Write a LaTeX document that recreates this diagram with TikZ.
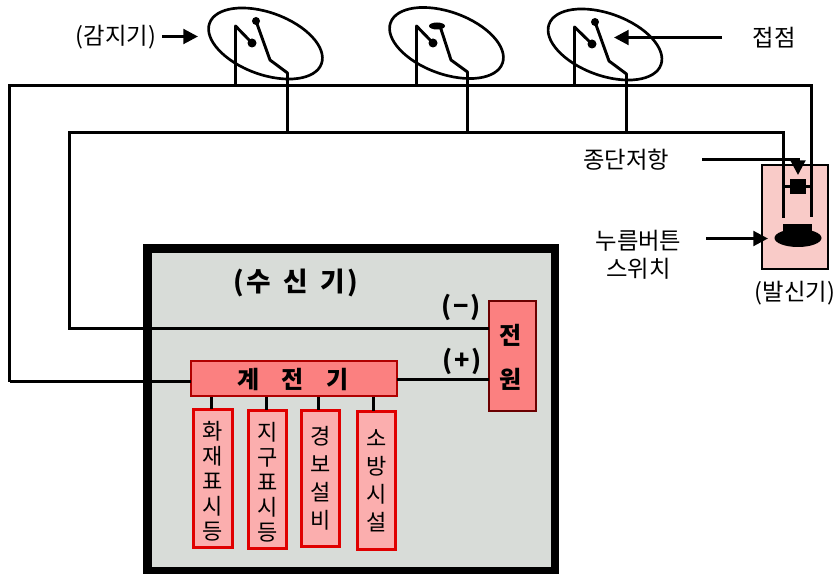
\documentclass[tikz,border=0pt]{standalone}
\usepackage{fontspec}
\setmainfont{Noto Sans CJK KR}
\usetikzlibrary{arrows.meta,shapes.geometric}
\definecolor{panel}{HTML}{D8DCD8}
\definecolor{relayfill}{HTML}{FB8080}
\definecolor{relayline}{HTML}{B00000}
\definecolor{powerline}{HTML}{6B0000}
\definecolor{outfill}{HTML}{FBAEAE}
\definecolor{outline}{HTML}{E00000}
\definecolor{sendfill}{HTML}{F9CBC8}
\tikzset{
  x=0.75pt,y=-0.75pt,
  wire/.style={draw=black,line width=2.25pt,line cap=butt,line join=miter},
  detector/.style={draw=black,line width=2.2pt,line join=round},
  ring/.style={draw=black,line width=2pt,ellipse,inner sep=0pt,outer sep=0pt,minimum width=119*0.75pt,minimum height=62*0.75pt,rotate=-20},
  dotnode/.style={circle,fill=black,inner sep=0pt,minimum size=#1*0.75pt},
  pointer/.style={draw=black,line width=2.25pt,-{Triangle[length=11pt,width=11pt]}},
  lbl/.style={inner sep=0pt,font=\fontsize{17.5pt}{21pt}\selectfont,align=center,text=black},
  blbl/.style={inner sep=0pt,font=\fontsize{18pt}{20pt}\selectfont\bfseries,align=center,text=black},
  signlbl/.style={inner sep=0pt,font=\fontsize{19pt}{22pt}\selectfont\bfseries,text=black},
  outbox/.style={draw=outline,fill=outfill,line width=2.2pt,inner sep=0pt,outer sep=0pt,align=center,anchor=north west},
  rowa/.style={outbox,font=\fontsize{16.5pt}{18.75pt}\selectfont},
  rowb/.style={outbox,font=\fontsize{16.5pt}{21pt}\selectfont},
  tap/.style={draw=black,line width=2.25pt},
  rect/.style={inner sep=0pt,outer sep=0pt,anchor=north west},
}
\begin{document}
\begin{tikzpicture}
\useasboundingbox (0,0) rectangle (836,574);

% receiver panel
\node[rect,draw=black,fill=panel,line width=6.4pt,minimum width=407.5*0.75pt,minimum height=323*0.75pt] (recv) at (147.5,248.5) {};
\node[signlbl,font=\fontsize{20pt}{24pt}\selectfont\bfseries] at (296,283) {(\hspace{1.5pt}수\hspace{9.5pt}신\hspace{9.5pt}기\hspace{1.5pt})};

% sender
\node[rect,draw=black,fill=sendfill,line width=2pt,minimum width=66*0.75pt,minimum height=104*0.75pt] (send) at (762,165) {};
\node[fill=black,inner sep=0pt,outer sep=0pt,minimum width=16*0.75pt,minimum height=15*0.75pt] (res) at (798,186.5) {};
\node[fill=black,ellipse,inner sep=0pt,outer sep=0pt,minimum width=47*0.75pt,minimum height=18*0.75pt] (btnbase) at (798,238) {};
\node[rect,fill=black,minimum width=29*0.75pt,minimum height=9*0.75pt] (btntop) at (783,224) {};

% detectors
\node[ring] (d1) at (265.5,43.5) {};
\node[ring] (d2) at (446.5,43) {};
\node[ring] (d3) at (605,44.5) {};

\node[dotnode=9] (a1) at (252,43) {};
\node[dotnode=8] (b1) at (256,21) {};
\node[dotnode=9] (a2) at (433,43) {};
\node[fill=black,ellipse,inner sep=0pt,minimum width=16*0.75pt,minimum height=7*0.75pt] (b2) at (437,26) {};
\node[dotnode=9] (a3) at (592,44) {};
\node[dotnode=8] (b3) at (595,22) {};

% bus junctions
\coordinate (busPa) at (9.5,85.5);
\coordinate (busPb) at (811.5,85.5);
\coordinate (busNa) at (69.5,132.5);
\coordinate (busNb) at (783.5,132.5);
\coordinate (tp1) at (235.5,85.5);
\coordinate (tp2) at (416.5,85.5);
\coordinate (tp3) at (574.5,85.5);
\coordinate (tn1) at (287.5,132.5);
\coordinate (tn2) at (467.5,132.5);
\coordinate (tn3) at (626.5,132.5);

% relay, power
\node[rect,draw=relayline,fill=relayfill,line width=2.2pt,minimum width=206*0.75pt,minimum height=35*0.75pt] (relay) at (191,361) {};
\node[blbl] at (293,379.5) {계\hspace{17pt}전\hspace{17pt}기};
\node[rect,draw=powerline,fill=relayfill,line width=2.2pt,minimum width=47*0.75pt,minimum height=110*0.75pt] (power) at (489,301) {};
\node[blbl] at (511,335) {전};
\node[blbl] at (511,379) {원};

% output boxes
\node[rowa,minimum width=39*0.75pt,minimum height=138*0.75pt] (o1) at (193.5,409.5) {\rule{0pt}{18pt}화\\재\\표\\시\\등};
\node[rowa,minimum width=38*0.75pt,minimum height=138*0.75pt] (o2) at (248.5,410.5) {\rule{0pt}{18pt}지\\구\\표\\시\\등};
\node[rowb,minimum width=38*0.75pt,minimum height=136*0.75pt] (o3) at (301.5,410.5) {경\\보\\설\\비};
\node[rowb,minimum width=38*0.75pt,minimum height=138*0.75pt] (o4) at (357.5,411.5) {소\\방\\시\\설};

% wires
\draw[wire] (busPa |- 0,381.5) -- (busPa) -- (busPb) -- (811.5,217);
\draw[wire] (busPa |- 0,381.5) -- (relay.west |- 0,381.5);
\draw[wire] (783.5,218) -- (busNb) -- (busNa) -- (69.5,328.5) -- (power.west |- 0,328.5);
\draw[wire] (relay.east |- 0,379.5) -- (power.west |- 0,379.5);
\draw[wire] (res.west) -- (783.5,186.5);
\draw[wire] (res.east) -- (811.5,186.5);

\draw[detector] (tp1) -- (235.5,26) -- (a1.center);
\draw[detector] (b1.center) -- (270,60) -- (287.5,73) -- (tn1);
\draw[detector] (tp2) -- (416.5,26) -- (a2.center);
\draw[detector] (440,26) -- (451,60) -- (467.5,72) -- (tn2);
\draw[detector] (tp3) -- (574.5,27) -- (a3.center);
\draw[detector] (b3.center) -- (609,61) -- (626.5,74) -- (tn3);

\draw[tap] (211.5,397) -- (211.5,409);
\draw[tap] (266.5,397) -- (266.5,410);
\draw[tap] (318.5,397) -- (318.5,410);
\draw[tap] (373.5,397) -- (373.5,411);

% labels and pointers
\node[lbl] (lsense) at (116,37) {(감지기)};
\node[lbl] (lcontact) at (774,38) {접점};
\node[lbl] (lterm) at (626,160) {종단저항};
\node[lbl] (lpush) at (638.5,255) {누름버튼\\스위치};
\node[lbl] (lsend) at (795,293) {(발신기)};
\node[signlbl] at (461,307) {(\hspace{1.5pt}−\hspace{1.5pt})};
\node[signlbl] at (462,361) {(\hspace{1.5pt}+\hspace{1.5pt})};

\coordinate (p1s) at (162,36.5);
\coordinate (p1e) at (198,36.5);
\coordinate (p2s) at (722,37.5);
\coordinate (p2e) at (614,37.5);
\coordinate (p3s) at (702,159.5);
\coordinate (p3k) at (798,159.5);
\coordinate (p3e) at (798,175);
\coordinate (p4s) at (706,238.5);
\coordinate (p4e) at (768,238.5);
\draw[pointer] (p1s) -- (p1e);
\draw[pointer] (p2s) -- (p2e);
\draw[pointer] (p3s) -- (p3k) -- (p3e);
\draw[pointer] (p4s) -- (p4e);
\end{tikzpicture}
\end{document}
